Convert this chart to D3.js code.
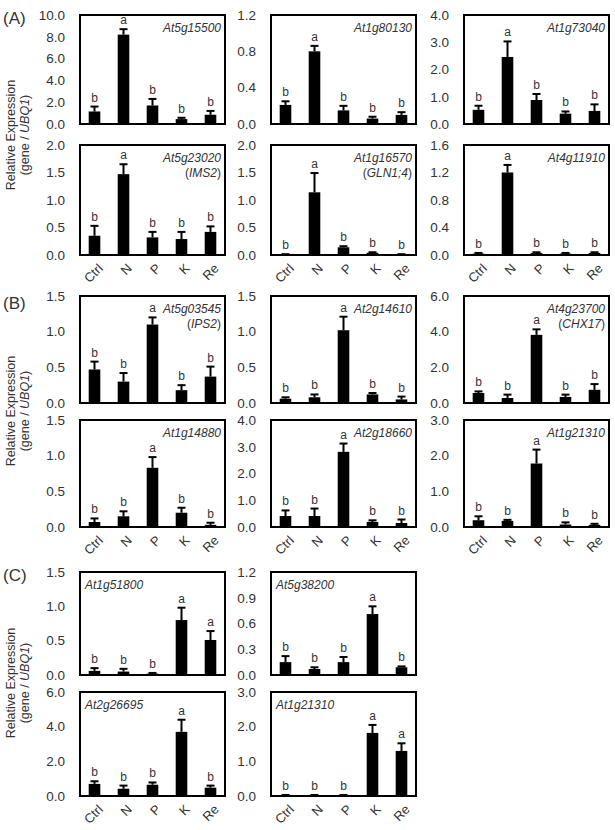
<!DOCTYPE html>
<html><head><meta charset="utf-8">
<script src="https://cdn.jsdelivr.net/npm/d3@7"></script>
<style>body{margin:0;background:#fff} svg{display:block}</style>
</head><body><svg id="c" width="615" height="830"></svg>
<script>
const categories = ["Ctrl", "N", "P", "K", "Re"];
const genes = ["At5g15500", "At1g80130", "At1g73040", "At5g23020", "At1g16570", "At4g11910",
  "At5g03545", "At2g14610", "At4g23700", "At1g14880", "At2g18660", "At1g21310",
  "At1g51800", "At5g38200", "At2g26695", "At1g21310"];
const aliases = ["", "", "", "(IMS2)", "(GLN1;4)", "", "(IPS2)", "", "(CHX17)", "", "", "", "", "", "", ""];
const yMaxes = [10, 1.2, 4, 2, 2, 1.6, 1.5, 1.5, 6, 1.5, 4, 3, 1.5, 1.2, 6, 3];
const yTicks = [
  [0, 2, 4, 6, 8, 10], [0, 0.4, 0.8, 1.2], [0, 1, 2, 3, 4],
  [0, 0.5, 1, 1.5, 2], [0, 0.5, 1, 1.5, 2], [0, 0.4, 0.8, 1.2, 1.6],
  [0, 0.5, 1, 1.5], [0, 0.5, 1, 1.5], [0, 2, 4, 6],
  [0, 0.5, 1, 1.5], [0, 1, 2, 3, 4], [0, 1, 2, 3],
  [0, 0.5, 1, 1.5], [0, 0.3, 0.6, 0.9, 1.2], [0, 2, 4, 6], [0, 1, 2, 3]
];
const means = [
  [1.15, 8.2, 1.7, 0.45, 0.85], [0.21, 0.80, 0.15, 0.06, 0.10], [0.52, 2.46, 0.88, 0.38, 0.48],
  [0.35, 1.47, 0.32, 0.29, 0.42], [0.01, 1.14, 0.14, 0.04, 0.01], [0.02, 1.20, 0.03, 0.02, 0.03],
  [0.47, 0.30, 1.10, 0.18, 0.37], [0.06, 0.08, 1.02, 0.12, 0.05], [0.56, 0.28, 3.82, 0.34, 0.74],
  [0.07, 0.15, 0.83, 0.20, 0.03], [0.41, 0.41, 2.81, 0.19, 0.15], [0.19, 0.17, 1.78, 0.07, 0.06],
  [0.06, 0.05, 0.02, 0.80, 0.51], [0.15, 0.07, 0.15, 0.71, 0.09], [0.70, 0.42, 0.65, 3.70, 0.48],
  [0.02, 0.02, 0.02, 1.82, 1.30]
];
const errors = [
  [0.45, 0.5, 0.6, 0.12, 0.35], [0.04, 0.06, 0.05, 0.02, 0.03], [0.15, 0.57, 0.22, 0.08, 0.24],
  [0.18, 0.18, 0.10, 0.13, 0.10], [0.005, 0.35, 0.02, 0.01, 0.005], [0.01, 0.11, 0.01, 0.01, 0.01],
  [0.11, 0.12, 0.10, 0.07, 0.14], [0.02, 0.04, 0.19, 0.02, 0.04], [0.09, 0.19, 0.31, 0.13, 0.32],
  [0.05, 0.07, 0.15, 0.07, 0.03], [0.21, 0.28, 0.31, 0.06, 0.13], [0.11, 0.03, 0.39, 0.06, 0.03],
  [0.04, 0.04, 0.01, 0.18, 0.13], [0.07, 0.02, 0.06, 0.09, 0.01], [0.15, 0.18, 0.13, 0.70, 0.12],
  [0.01, 0.01, 0.01, 0.23, 0.22]
];
const letters = [
  ["b","a","b","b","b"], ["b","a","b","b","b"], ["b","a","b","b","b"],
  ["b","a","b","b","b"], ["b","a","b","b","b"], ["b","a","b","b","b"],
  ["b","b","a","b","b"], ["b","b","a","b","b"], ["b","b","a","b","b"],
  ["b","b","a","b","b"], ["b","b","a","b","b"], ["b","b","a","b","b"],
  ["b","b","b","a","a"], ["b","b","b","a","b"], ["b","b","b","a","b"], ["b","b","b","a","a"]
];
const sectionLabels = ["(A)", "(B)", "(C)"];

// ---- layout ----
const FONT = "'Liberation Sans', Arial, sans-serif";
const TXT = "#333";
const colLeft = [80, 271, 464], panelW = 145;
const rowTop = [15, 145, 296, 420, 572, 692];
const rowBot = [124, 255, 403, 527, 675, 796];
const panelRow = [0,0,0,1,1,1,2,2,2,3,3,3,4,4,5,5];
const panelCol = [0,1,2,0,1,2,0,1,2,0,1,2,0,1,0,1];
const xLabelRows = new Set([1, 3, 5]);
const leftLabelRows = new Set([4, 5]);
const sectionLabelY = [18, 303, 575];
const axisTitleY = [135, 411, 683];

const svg = d3.select("#c");

genes.forEach((gene, i) => {
  const r = panelRow[i], c = panelCol[i];
  const x0 = colLeft[c], y0 = rowTop[r], y1 = rowBot[r];
  const x = d3.scaleBand().domain(categories).range([x0, x0 + panelW]).paddingInner(0.6).paddingOuter(0.3);
  const y = d3.scaleLinear().domain([0, yMaxes[i]]).range([y1, y0]);
  const g = svg.append("g");
  const rows = categories.map((cat, j) => ({cat, m: means[i][j], e: errors[i][j], l: letters[i][j]}));

  g.selectAll("rect.bar").data(rows).join("rect").attr("class", "bar")
    .attr("x", d => x(d.cat)).attr("width", x.bandwidth())
    .attr("y", d => y(d.m)).attr("height", d => y1 - y(d.m)).attr("fill", "#000");

  g.selectAll("line.err").data(rows).join("line").attr("class", "err")
    .attr("x1", d => x(d.cat) + x.bandwidth() / 2).attr("x2", d => x(d.cat) + x.bandwidth() / 2)
    .attr("y1", d => y(d.m)).attr("y2", d => y(d.m + d.e)).attr("stroke", "#000").attr("stroke-width", 2);
  g.selectAll("line.cap").data(rows).join("line").attr("class", "cap")
    .attr("x1", d => x(d.cat) + x.bandwidth() / 2 - 4).attr("x2", d => x(d.cat) + x.bandwidth() / 2 + 4)
    .attr("y1", d => y(d.m + d.e)).attr("y2", d => y(d.m + d.e)).attr("stroke", "#000").attr("stroke-width", 2);

  g.selectAll("text.sig").data(rows).join("text").attr("class", "sig")
    .attr("x", d => x(d.cat) + x.bandwidth() / 2).attr("y", d => y(d.m + d.e) - 5)
    .attr("text-anchor", "middle").attr("font-family", FONT).attr("font-size", 12).attr("fill", TXT)
    .text(d => d.l);

  const ax = d3.axisLeft(y).tickValues(yTicks[i]).tickSize(0).tickPadding(15).tickFormat(d3.format(".1f"));
  const ag = g.append("g").attr("transform", `translate(${x0},0)`).call(ax);
  ag.select(".domain").remove();
  ag.selectAll("text").attr("font-family", FONT).attr("font-size", 13.5).attr("fill", TXT);

  g.append("rect").attr("x", x0).attr("y", y0).attr("width", panelW).attr("height", y1 - y0)
    .attr("fill", "none").attr("stroke", "#000").attr("stroke-width", 2);

  const left = leftLabelRows.has(r);
  const gx = left ? x0 + 5 : x0 + panelW - 4;
  g.append("text").attr("x", gx).attr("y", y0 + 17)
    .attr("text-anchor", left ? "start" : "end").attr("font-family", FONT).attr("font-size", 12)
    .attr("font-style", "italic").attr("fill", TXT).text(gene);
  if (aliases[i]) {
    const t2 = g.append("text").attr("x", gx).attr("y", y0 + 32)
      .attr("text-anchor", left ? "start" : "end").attr("font-family", FONT).attr("font-size", 12).attr("fill", TXT);
    const inner = aliases[i].slice(1, -1);
    t2.append("tspan").text("(");
    t2.append("tspan").attr("font-style", "italic").text(inner);
    t2.append("tspan").text(")");
  }

  if (xLabelRows.has(r)) {
    g.selectAll("text.xl").data(categories).join("text").attr("class", "xl")
      .attr("transform", d => `translate(${x(d) + x.bandwidth() / 2 + 6},${y1 + 11}) rotate(-45)`)
      .attr("text-anchor", "end").attr("dy", "0.35em")
      .attr("font-family", FONT).attr("font-size", 13).attr("fill", TXT).text(d => d);
  }
});

sectionLabels.forEach((s, k) => {
  svg.append("text").attr("x", 3).attr("y", sectionLabelY[k]).attr("dy", "0.35em")
    .attr("font-family", FONT).attr("font-size", 17).attr("fill", TXT).text(s);
  const t = svg.append("g").attr("transform", `translate(0,${axisTitleY[k]}) rotate(-90)`);
  t.append("text").attr("x", 0).attr("y", 15).attr("text-anchor", "middle")
    .attr("font-family", FONT).attr("font-size", 12.5).attr("fill", TXT).text("Relative Expression");
  const t2 = t.append("text").attr("x", 0).attr("y", 29).attr("text-anchor", "middle")
    .attr("font-family", FONT).attr("font-size", 12.5).attr("fill", TXT);
  t2.append("tspan").text("(gene / ");
  t2.append("tspan").attr("font-style", "italic").text("UBQ1");
  t2.append("tspan").text(")");
});
</script></body></html>
